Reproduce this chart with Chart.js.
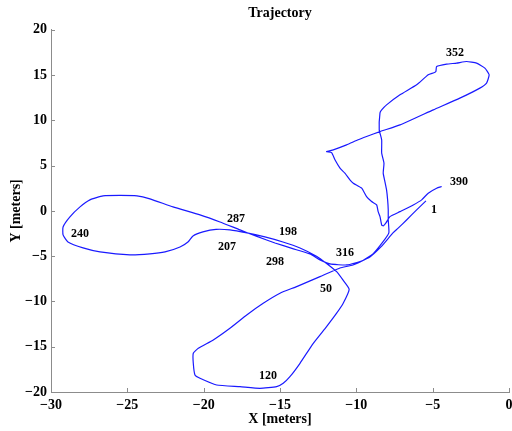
<!DOCTYPE html>
<html>
<head>
<meta charset="utf-8">
<script src="https://cdn.jsdelivr.net/npm/chart.js@4.4.1/dist/chart.umd.min.js"></script>
<style>
  html, body { margin: 0; padding: 0; background: #fff; }
  #wrap { width: 512px; height: 431px; }
</style>
</head>
<body>
<div id="wrap"><canvas id="trajChart"></canvas></div>
<script>
// trajectory samples (meters)
const pathX = [-5.44, -6.05, -6.71, -7.26, -7.60, -8.39, -9.11, -10.22, -11.07, -12.38,
  -13.91, -15.00, -16.10, -17.18, -18.28, -19.37, -20.35, -20.68, -20.68, -20.57,
  -20.24, -19.15, -17.62, -16.31, -15.22, -14.79, -14.35, -13.69, -12.82, -11.95,
  -11.29, -10.86, -10.47, -10.88, -11.29, -11.99, -12.58, -13.69, -14.81, -15.99,
  -17.16, -18.28, -19.19, -20.05, -20.70, -21.03, -21.55, -22.53, -23.52, -24.83,
  -26.79, -27.90, -28.89, -29.21, -29.21, -28.76, -28.10, -27.45, -26.59, -25.48,
  -24.37, -23.52, -22.01, -20.24, -18.93, -17.62, -16.51, -15.33, -14.22, -13.04,
  -12.38, -11.73, -10.62, -9.57, -8.91, -8.26, -7.87,
  -7.91, -7.91, -7.95, -8.02, -8.13, -8.24, -8.19, -8.34, -8.34, -8.50,
  -8.45, -8.34, -8.02, -7.14,
  -6.05, -5.29, -4.92, -4.79, -4.74, -4.09, -3.43, -2.78, -2.12, -1.58,
  -1.30, -1.47, -1.91, -3.22, -4.96, -7.14, -8.45, -9.33, -9.88, -10.64,
  -11.51, -11.95, -11.62, -11.40, -11.07, -10.75, -10.42, -10.20, -9.65, -9.33,
  -9.00, -8.67, -8.57, -8.45, -8.34, -8.24, -8.06, -7.80, -7.14, -6.27,
  -5.72, -5.29, -4.74, -4.41];
const pathY = [1.10, 0.11, -1.00, -1.91, -2.43, -3.98, -5.08, -5.97, -6.30, -7.26,
  -8.36, -9.09, -10.20, -11.49, -12.96, -14.25, -15.17, -15.72, -16.83, -18.12,
  -18.49, -19.23, -19.41, -19.59, -19.41, -19.04, -18.31, -16.83, -14.62, -12.78,
  -11.30, -10.20, -8.65, -7.62, -6.71, -5.75, -5.03, -4.09, -3.43, -2.87,
  -2.43, -2.10, -2.04, -2.32, -2.76, -3.43, -3.98, -4.53, -4.75, -4.86,
  -4.53, -4.09, -3.43, -2.65, -1.77, -0.66, 0.44, 1.22, 1.66, 1.71,
  1.66, 1.33, 0.44, -0.44, -1.22, -2.10, -2.82, -3.54, -4.14, -4.75,
  -5.41, -5.86, -5.97, -5.47, -4.75, -3.43, -2.43,
  -0.99, 0.11, 1.22, 2.32, 3.24, 4.17, 5.27, 6.38, 7.85, 8.95,
  10.83, 11.16, 11.71, 12.82,
  13.92, 15.03, 15.25, 15.39, 15.94, 16.21, 16.32, 16.50, 16.32, 15.77,
  15.03, 14.11, 13.56, 12.45, 11.16, 9.50, 8.76, 8.21, 7.85, 7.29,
  6.74, 6.55, 6.44, 5.64, 4.72, 4.17, 3.43, 3.06, 2.51, 1.58,
  1.03, 0.66, -0.08, -0.63, -1.55, -1.66, -1.33, -0.63, -0.08, 0.66,
  1.22, 1.96, 2.51, 2.69];

// sample index annotations
const markText = ['1', '50', '120', '198', '207', '240', '287', '298', '316', '352', '390'];
const markX = [-4.92, -11.99, -15.79, -14.48, -18.47, -28.10, -17.88, -15.33, -10.75, -3.54, -3.28];
const markY = [0.11, -8.62, -18.23, -2.32, -3.98, -2.54, -0.88, -5.64, -4.64, 17.46, 3.20];

const xTicks = [-30, -25, -20, -15, -10, -5, 0];
const yTicks = [-20, -15, -10, -5, 0, 5, 10, 15, 20];

const serif = '"Liberation Serif", "DejaVu Serif", serif';
Chart.defaults.font.family = serif;
Chart.defaults.color = '#000';

const minus = v => String(v).replace('-', '\u2212');

const points = pathX.map((x, i) => ({ x: x, y: pathY[i] }));

// tick marks drawn inward plus the index labels
const extras = {
    id: 'extras',
    afterDatasetsDraw(chart) {
        const ctx = chart.ctx;
        const xs = chart.scales.x, ys = chart.scales.y;
        ctx.save();
        ctx.fillStyle = '#000';
        ctx.font = 'bold 12px ' + serif;
        ctx.textAlign = 'center';
        ctx.textBaseline = 'middle';
        markText.forEach((t, i) => {
            ctx.fillText(t, xs.getPixelForValue(markX[i]), ys.getPixelForValue(markY[i]));
        });
        ctx.strokeStyle = '#8c8c8c';
        ctx.lineWidth = 1;
        ctx.beginPath();
        xTicks.forEach(v => {
            const px = Math.round(xs.getPixelForValue(v)) + 0.5;
            ctx.moveTo(px, ys.bottom);
            ctx.lineTo(px, ys.bottom - 4);
        });
        yTicks.forEach(v => {
            const py = Math.round(ys.getPixelForValue(v)) + 0.5;
            ctx.moveTo(xs.left, py);
            ctx.lineTo(xs.left + 4, py);
        });
        ctx.stroke();
        ctx.restore();
    }
};

const ctx1 = document.getElementById('trajChart');
const trajChart = new Chart(ctx1, {
    type: 'scatter',
    data: {
        datasets: [{
            label: 'trajectory',
            data: points,
            showLine: true,
            borderColor: '#1a1aff',
            borderWidth: 1.2,
            pointRadius: 0,
            tension: 0.15
        }]
    },
    plugins: [extras],
    options: {
        responsive: true,
        maintainAspectRatio: false,
        animation: false,
        layout: { padding: { right: 3 } },
        plugins: {
            legend: { display: false },
            tooltip: { enabled: false },
            title: {
                display: true,
                text: 'Trajectory',
                fullSize: false,
                font: { size: 14, weight: 'bold' },
                padding: { top: 5, bottom: 8 }
            }
        },
        scales: {
            x: {
                type: 'linear',
                min: -30,
                max: 0,
                afterFit: s => { s.height = 39; s.paddingRight = 0; },
                grid: { display: true, drawOnChartArea: false, drawTicks: false },
                border: { display: true, color: '#8c8c8c' },
                ticks: {
                    stepSize: 5,
                    padding: 5,
                    font: { size: 14, weight: 'bold' },
                    callback: v => minus(v)
                },
                title: {
                    display: true,
                    text: 'X [meters]',
                    font: { size: 14, weight: 'bold' },
                    padding: { top: 0, bottom: 3 }
                }
            },
            y: {
                type: 'linear',
                min: -20,
                max: 20,
                afterFit: s => { s.width = 51; },
                grid: { display: true, drawOnChartArea: false, drawTicks: false },
                border: { display: true, color: '#8c8c8c' },
                ticks: {
                    stepSize: 5,
                    padding: 4,
                    font: { size: 14, weight: 'bold' },
                    callback: v => minus(v)
                },
                title: {
                    display: true,
                    text: 'Y [meters]',
                    font: { size: 14, weight: 'bold' },
                    padding: { top: 8, bottom: 0 }
                }
            }
        }
    }
});
</script>
</body>
</html>
